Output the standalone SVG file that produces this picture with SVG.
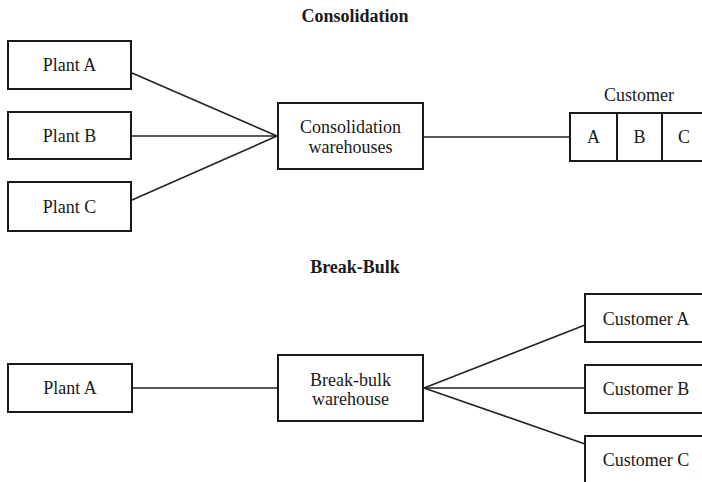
<svg xmlns="http://www.w3.org/2000/svg" width="702" height="482" viewBox="0 0 702 482">
  <style>
    .box { fill: #fff; stroke: #1a1a1a; stroke-width: 2; }
    .lbl { font-family: "Liberation Serif", "Times New Roman", serif; font-size: 18px; fill: #1a1a1a; text-anchor: middle; }
    .title { font-family: "Liberation Serif", "Times New Roman", serif; font-size: 18px; font-weight: bold; fill: #1a1a1a; text-anchor: middle; }
    .link { stroke: #222; stroke-width: 1.6; fill: none; }
  </style>
  <rect width="702" height="482" fill="#fff"/>

  <!-- Section titles -->
  <text class="title" x="355" y="22">Consolidation</text>
  <text class="title" x="355" y="273">Break-Bulk</text>

  <!-- Connectors -->
  <g id="connectors">
    <line class="link" x1="132" y1="73" x2="277" y2="136"/>
    <line class="link" x1="132" y1="136" x2="277" y2="136"/>
    <line class="link" x1="132" y1="200" x2="277" y2="136"/>
    <line class="link" x1="423" y1="137" x2="570" y2="137"/>
    <line class="link" x1="132" y1="388" x2="278" y2="388"/>
    <line class="link" x1="424" y1="388" x2="585" y2="325"/>
    <line class="link" x1="424" y1="388" x2="585" y2="388"/>
    <line class="link" x1="424" y1="388" x2="585" y2="444"/>
  </g>

  <!-- Consolidation: plants -->
  <g id="plant-a-top">
    <rect class="box" x="8" y="41" width="123" height="48"/>
    <text class="lbl" x="69.5" y="71">Plant A</text>
  </g>
  <g id="plant-b-top">
    <rect class="box" x="8" y="112" width="123" height="47"/>
    <text class="lbl" x="69.5" y="142">Plant B</text>
  </g>
  <g id="plant-c-top">
    <rect class="box" x="8" y="182" width="123" height="49"/>
    <text class="lbl" x="69.5" y="213">Plant C</text>
  </g>

  <!-- Consolidation warehouses -->
  <g id="consolidation-warehouses">
    <rect class="box" x="278" y="103" width="145" height="66"/>
    <text class="lbl" x="350.5" y="133">Consolidation</text>
    <text class="lbl" x="350.5" y="153">warehouses</text>
  </g>

  <!-- Customer with three sections -->
  <g id="customer-top">
    <text class="lbl" x="639" y="101">Customer</text>
    <rect class="box" x="570" y="113" width="47" height="48"/>
    <rect class="box" x="617" y="113" width="45" height="48"/>
    <rect class="box" x="662" y="113" width="46" height="48"/>
    <text class="lbl" x="593.5" y="143">A</text>
    <text class="lbl" x="639.5" y="143">B</text>
    <text class="lbl" x="684" y="143">C</text>
  </g>

  <!-- Break-bulk: plant -->
  <g id="plant-a-bottom">
    <rect class="box" x="8" y="364" width="124" height="48"/>
    <text class="lbl" x="70" y="394">Plant A</text>
  </g>

  <!-- Break-bulk warehouse -->
  <g id="break-bulk-warehouse">
    <rect class="box" x="278" y="355" width="145" height="66"/>
    <text class="lbl" x="350.5" y="386">Break-bulk</text>
    <text class="lbl" x="350.5" y="405">warehouse</text>
  </g>

  <!-- Customers -->
  <g id="customer-a">
    <rect class="box" x="585" y="294" width="125" height="48"/>
    <text class="lbl" x="646" y="325">Customer A</text>
  </g>
  <g id="customer-b">
    <rect class="box" x="585" y="365" width="125" height="48"/>
    <text class="lbl" x="646" y="395">Customer B</text>
  </g>
  <g id="customer-c">
    <rect class="box" x="585" y="436" width="125" height="60"/>
    <text class="lbl" x="646" y="466">Customer C</text>
  </g>
</svg>
